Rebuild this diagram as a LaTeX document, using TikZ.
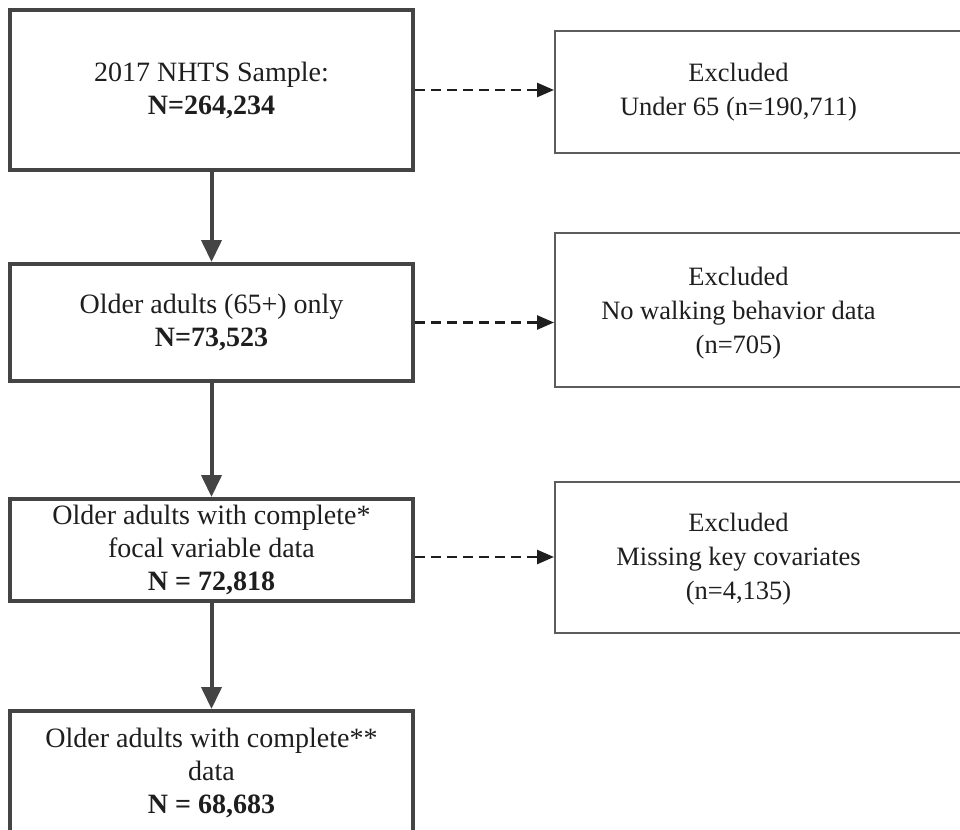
\documentclass[tikz,border=0pt]{standalone}
\usepackage{fontspec}
\setmainfont{Liberation Serif}
\usetikzlibrary{arrows.meta}
\definecolor{flowgray}{HTML}{444444}
\definecolor{exclgray}{HTML}{5C5C5C}
\definecolor{inkgray}{HTML}{1E1E1E}

\begin{document}
\begin{tikzpicture}[x=1pt,y=-1pt,
  flowbox/.style={draw=flowgray,line width=4pt,minimum width=403pt,align=center,
    text=inkgray,font=\fontsize{28}{33}\selectfont},
  exclbox/.style={draw=exclgray,line width=2pt,minimum width=420pt},
  excltext/.style={align=center,text=inkgray,font=\fontsize{26.5}{34}\selectfont},
  keep/.style={draw=flowgray,line width=4pt,-{Triangle[width=20pt,length=22pt]}},
  drop/.style={draw=inkgray,line width=2.6pt,dash pattern=on 10pt off 6pt,
    -{Triangle[width=14pt,length=17pt]}}]
  \useasboundingbox (0,0) rectangle (960,829);
  % main flow
  \node (sample) [flowbox,minimum height=160pt] at (211.5,90) {2017 NHTS Sample:\\\textbf{N=264,234}};
  \node (older) [flowbox,minimum height=117pt] at (211.5,322.5) {Older adults (65+) only\\\textbf{N=73,523}};
  \node (focal) [flowbox,minimum height=102pt] at (211.5,550) {Older adults with complete*\\focal variable data\\\textbf{N = 72,818}};
  \node (final) [flowbox,minimum height=124pt] at (211.5,773) {Older adults with complete**\\data\\\textbf{N = 68,683}};
  % exclusions
  \node (under) [exclbox,minimum height=122pt] at (765,92) {};
  \node (nowalk) [exclbox,minimum height=154pt] at (765,310) {};
  \node (nocov) [exclbox,minimum height=151pt] at (765,557.5) {};
  \node (undert) [excltext] at ([xshift=184.5pt]under.west) {Excluded\\Under 65 (n=190,711)};
  \node (nowalkt) [excltext] at ([xshift=184.5pt,yshift=-3pt]nowalk.west) {Excluded\\No walking behavior data\\(n=705)};
  \node (nocovt) [excltext] at ([xshift=184.5pt,yshift=-2pt]nocov.west) {Excluded\\Missing key covariates\\(n=4,135)};
  \path
    (sample) edge [keep] (older)
    (older) edge [keep] (focal)
    (focal) edge [keep] (final);
  \path
    (sample.east) edge [drop] (sample.east -| under.west)
    (older.east) edge [drop] (older.east -| nowalk.west)
    ([yshift=-7pt]focal.east) edge [drop] ([yshift=-7pt]focal.east -| nocov.west);
\end{tikzpicture}
\end{document}
